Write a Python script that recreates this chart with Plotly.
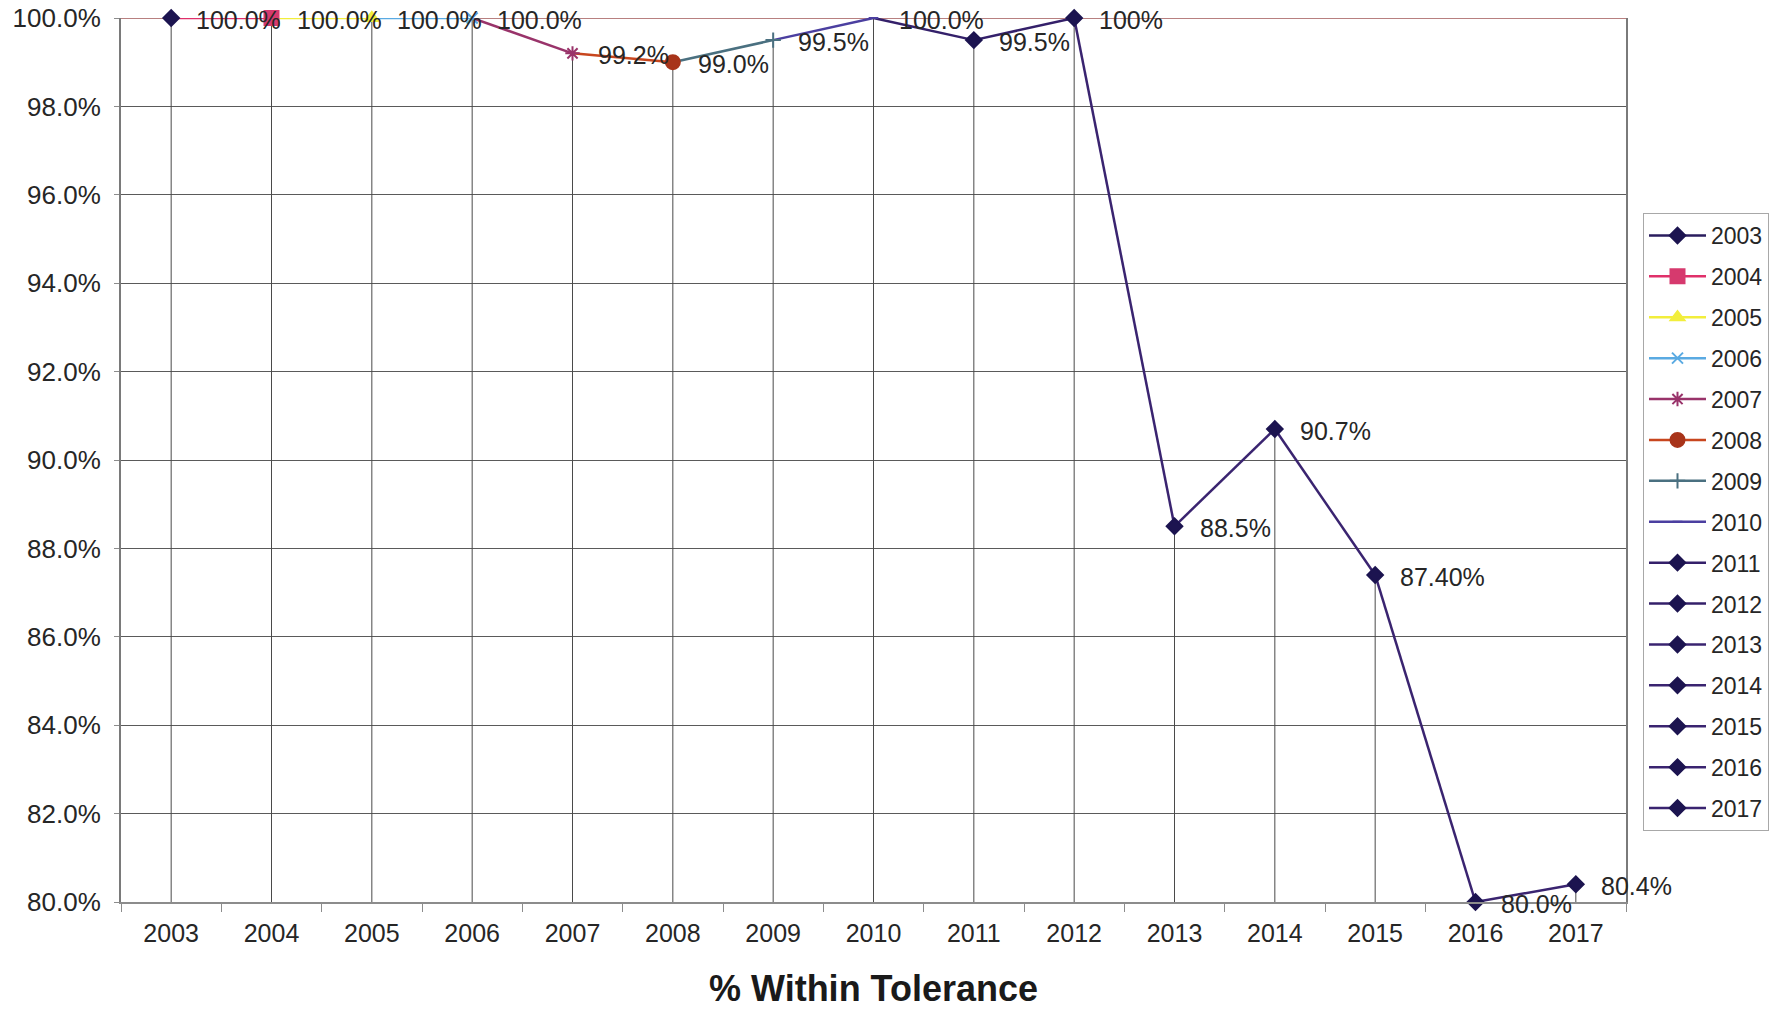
import plotly.graph_objects as go

# Yearly share of measurements within tolerance
years = ["2003", "2004", "2005", "2006", "2007", "2008", "2009", "2010",
         "2011", "2012", "2013", "2014", "2015", "2016", "2017"]
pct_within = [100.0, 100.0, 100.0, 100.0, 99.2, 99.0, 99.5, 100.0,
              99.5, 100.0, 88.5, 90.7, 87.4, 80.0, 80.4]
point_labels = ["100.0%", "100.0%", "100.0%", "100.0%", "99.2%", "99.0%", "99.5%",
                "100.0%", "99.5%", "100%", "88.5%", "90.7%", "87.40%", "80.0%", "80.4%"]

# Per-year series styling (line colour, marker symbol, marker colour, marker size)
line_colors = ["#2a1d5e", "#e0306a", "#f2ee3c", "#5aaae2", "#99336a", "#c8461e",
               "#4a7080", "#4b3fa0", "#34206a", "#34206a", "#3a2470", "#3a2470",
               "#3a2470", "#3a2470", "#3a2470"]
marker_symbols = ["diamond", "square", "triangle-up", "x-thin-open", "asterisk-open",
                  "circle", "cross-thin-open", "line-ew-open", "diamond", "diamond",
                  "diamond", "diamond", "diamond", "diamond", "diamond"]
marker_colors = ["#1c1450", "#d63a6e", "#f2ee3c", "#5aaae2", "#99336a", "#a8341a",
                 "#4a7080", "#4b3fa0", "#1c1450", "#1c1450", "#1c1450", "#1c1450",
                 "#1c1450", "#1c1450", "#1c1450"]
marker_sizes = [12, 14, 12, 11, 12, 14, 11, 7, 12, 12, 12, 12, 12, 12, 12]

Y_MIN, Y_MAX = 80.0, 100.0
FONT = "Liberation Sans, Arial, sans-serif"
TEXT = "#262626"

fig = go.Figure()

# segments joining each year to the previous one, in that year's colour
for i in range(1, len(years)):
    fig.add_trace(go.Scatter(
        x=[years[i - 1], years[i]], y=[pct_within[i - 1], pct_within[i]],
        mode="lines", line=dict(color=line_colors[i], width=2.5),
        legendgroup=years[i], showlegend=False, hoverinfo="skip",
        cliponaxis=False,
    ))

# each year's point, with a drop line down to the axis
for i, yr in enumerate(years):
    fig.add_trace(go.Scatter(
        x=[yr], y=[pct_within[i]], name=yr, legendgroup=yr,
        mode="lines+markers", cliponaxis=False,
        line=dict(color=line_colors[i], width=2.5),
        marker=dict(symbol=marker_symbols[i], size=marker_sizes[i],
                    color=marker_colors[i],
                    line=dict(color=marker_colors[i], width=2)),
        error_y=dict(type="data", symmetric=False, array=[0],
                     arrayminus=[pct_within[i] - Y_MIN], width=0,
                     thickness=1, color="#4a4a4a"),
    ))

# value labels to the right of each point (category axis -> position index)
for i, (v, lab) in enumerate(zip(pct_within, point_labels)):
    fig.add_annotation(x=i, y=v, text=lab, showarrow=False,
                       xanchor="left", yanchor="middle", xshift=23, yshift=-2,
                       font=dict(family=FONT, size=25, color=TEXT))

fig.update_layout(
    width=1780, height=1009,
    margin=dict(l=121, r=154, t=18, b=107, autoexpand=False),
    paper_bgcolor="white", plot_bgcolor="white",
    font=dict(family=FONT, size=25, color=TEXT),
    showlegend=True,
    legend=dict(
        xref="container", yref="container",
        x=1643 / 1780, y=1 - 213 / 1009, xanchor="left", yanchor="top",
        font=dict(family=FONT, size=23, color=TEXT),
        bordercolor="#a8a8a8", borderwidth=1, bgcolor="white",
        tracegroupgap=8, itemwidth=57, maxheight=1.0,
        entrywidth=60, entrywidthmode="pixels",
    ),
    shapes=[dict(type="line", xref="paper", yref="y", x0=0, x1=1,
                 y0=Y_MAX, y1=Y_MAX, line=dict(color="#b88080", width=2),
                 layer="below")],
)

fig.update_xaxes(
    type="category", categoryorder="array", categoryarray=years,
    range=[-0.5, len(years) - 0.5], automargin=False,
    showgrid=False, zeroline=False,
    showline=True, linecolor="#8c8c8c", linewidth=2,
    ticks="outside", tickson="boundaries", ticklen=8, tickcolor="#8c8c8c",
    ticklabelstandoff=8,
    tickfont=dict(family=FONT, size=25, color=TEXT),
    title=dict(text="<b>% Within Tolerance</b>", standoff=36,
               font=dict(family=FONT, size=36, color="#1a1a1a")),
)

fig.update_yaxes(
    range=[Y_MIN, Y_MAX], dtick=2, tick0=80, automargin=False,
    tickformat=".1f", ticksuffix="%",
    showgrid=True, gridcolor="#5a5a5a", gridwidth=1, zeroline=False,
    showline=True, linecolor="#7a7a7a", linewidth=2, mirror=True,
    ticks="outside", ticklen=5, tickcolor="#8c8c8c",
    ticklabelstandoff=8,
    tickfont=dict(family=FONT, size=26, color=TEXT),
)

fig.write_html("out.html")
